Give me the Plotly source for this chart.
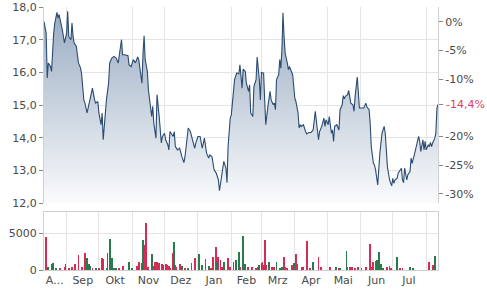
import plotly.graph_objects as go

# ---------------- data ----------------
PRICE_DATES = [
    "2022-08-11", "2022-08-13", "2022-08-14", "2022-08-15", "2022-08-17", "2022-08-18", "2022-08-20",
    "2022-08-21", "2022-08-23", "2022-08-24", "2022-08-25", "2022-08-27", "2022-08-28", "2022-08-30",
    "2022-09-01", "2022-09-02", "2022-09-03", "2022-09-05", "2022-09-06", "2022-09-07", "2022-09-08",
    "2022-09-10", "2022-09-12", "2022-09-14", "2022-09-15", "2022-09-17", "2022-09-18", "2022-09-20",
    "2022-09-22", "2022-09-23", "2022-09-25", "2022-09-27", "2022-09-28", "2022-09-30",
    "2022-10-01", "2022-10-03", "2022-10-04", "2022-10-05", "2022-10-06", "2022-10-08", "2022-10-10",
    "2022-10-11", "2022-10-13", "2022-10-15", "2022-10-17", "2022-10-19", "2022-10-20", "2022-10-22",
    "2022-10-23", "2022-10-25", "2022-10-28", "2022-10-29", "2022-10-31",
    "2022-11-02", "2022-11-04", "2022-11-06", "2022-11-07", "2022-11-09", "2022-11-10", "2022-11-11",
    "2022-11-12", "2022-11-13", "2022-11-15", "2022-11-16", "2022-11-18", "2022-11-19", "2022-11-20",
    "2022-11-21", "2022-11-23", "2022-11-24", "2022-11-26", "2022-11-27", "2022-11-28", "2022-11-29",
    "2022-12-01", "2022-12-02", "2022-12-04", "2022-12-05", "2022-12-06", "2022-12-07", "2022-12-09",
    "2022-12-10", "2022-12-11", "2022-12-13", "2022-12-15", "2022-12-17", "2022-12-19", "2022-12-20",
    "2022-12-22", "2022-12-23", "2022-12-25", "2022-12-27", "2022-12-29", "2022-12-30",
    "2023-01-01", "2023-01-03", "2023-01-05", "2023-01-07", "2023-01-09", "2023-01-11", "2023-01-12",
    "2023-01-14", "2023-01-16", "2023-01-18", "2023-01-20", "2023-01-21", "2023-01-23", "2023-01-25",
    "2023-01-27", "2023-01-28", "2023-01-29", "2023-01-31",
    "2023-02-01", "2023-02-03", "2023-02-04", "2023-02-06", "2023-02-08", "2023-02-09", "2023-02-11",
    "2023-02-12", "2023-02-14", "2023-02-15", "2023-02-17", "2023-02-18", "2023-02-19", "2023-02-21",
    "2023-02-22", "2023-02-24", "2023-02-25", "2023-02-27", "2023-02-28",
    "2023-03-01", "2023-03-03", "2023-03-04", "2023-03-05", "2023-03-07", "2023-03-08", "2023-03-09",
    "2023-03-10", "2023-03-12", "2023-03-13", "2023-03-14", "2023-03-15", "2023-03-17", "2023-03-18",
    "2023-03-19", "2023-03-20", "2023-03-21", "2023-03-22", "2023-03-23", "2023-03-25", "2023-03-26",
    "2023-03-27", "2023-03-28", "2023-03-30", "2023-03-31",
    "2023-04-01", "2023-04-02", "2023-04-04", "2023-04-05", "2023-04-06", "2023-04-07", "2023-04-09",
    "2023-04-11", "2023-04-12", "2023-04-14", "2023-04-16", "2023-04-18", "2023-04-19", "2023-04-20",
    "2023-04-22", "2023-04-23", "2023-04-24", "2023-04-26", "2023-04-28", "2023-04-29", "2023-04-30",
    "2023-05-02", "2023-05-03", "2023-05-05", "2023-05-06", "2023-05-07", "2023-05-08", "2023-05-10",
    "2023-05-12", "2023-05-13", "2023-05-15", "2023-05-16", "2023-05-17", "2023-05-18", "2023-05-20",
    "2023-05-21", "2023-05-23", "2023-05-25", "2023-05-26", "2023-05-27", "2023-05-29", "2023-05-30",
    "2023-05-31",
    "2023-06-02", "2023-06-04", "2023-06-06", "2023-06-07", "2023-06-09", "2023-06-10", "2023-06-11",
    "2023-06-13", "2023-06-14", "2023-06-15", "2023-06-17", "2023-06-18", "2023-06-19", "2023-06-21",
    "2023-06-23", "2023-06-24", "2023-06-25", "2023-06-26", "2023-06-28", "2023-06-30",
    "2023-07-01", "2023-07-02", "2023-07-03", "2023-07-05", "2023-07-06", "2023-07-07", "2023-07-09",
    "2023-07-10", "2023-07-11", "2023-07-12", "2023-07-14", "2023-07-15", "2023-07-17", "2023-07-18",
    "2023-07-19", "2023-07-21", "2023-07-22", "2023-07-24", "2023-07-25", "2023-07-26", "2023-07-27",
    "2023-07-29", "2023-07-30", "2023-07-31",
    "2023-08-01", "2023-08-03", "2023-08-04", "2023-08-05", "2023-08-06", "2023-08-07", "2023-08-09",
    "2023-08-10", "2023-08-11", "2023-08-12",
]
PRICE = [
    17.55, 17.20, 15.83, 16.29, 16.18, 16.03, 17.20,
    17.50, 17.84, 17.66, 17.77, 17.51, 17.31, 16.90,
    17.20, 17.87, 17.10, 17.00, 17.51, 17.10, 16.90,
    16.80, 16.29, 16.13, 15.93, 15.16, 15.06, 14.76,
    15.06, 15.27, 15.52, 15.16, 15.06, 15.11,
    14.76, 14.40, 14.76, 13.94, 14.45, 15.16, 15.67,
    16.29, 16.44, 16.49, 16.44, 16.29, 16.54, 17.00,
    16.54, 16.54, 16.51, 16.23, 16.18,
    16.39, 16.29, 16.47, 16.39, 15.83, 15.67, 16.59,
    17.12, 16.39, 16.03, 15.47, 14.96, 14.65, 14.96,
    14.45, 13.99, 15.32, 14.65, 14.14, 13.84, 14.04,
    14.14, 13.94, 13.79, 13.63, 14.19, 14.14, 14.04,
    14.19, 13.73, 13.63, 13.68, 13.43, 13.24, 13.43,
    13.94, 14.30, 14.19, 13.94, 13.68, 13.84,
    14.04, 14.04, 13.68, 13.99, 13.53, 13.38, 13.48,
    13.43, 13.02, 12.92, 12.71, 12.38, 12.82, 13.28,
    13.07, 12.63, 13.73, 14.60,
    14.70, 15.37, 15.78, 15.98, 15.96, 16.23, 15.52,
    16.10, 16.03, 15.67, 15.42, 15.62, 14.76, 14.65,
    15.57, 15.78, 16.47, 15.78, 15.16,
    16.00, 15.98, 15.16, 14.40, 14.96, 15.27, 15.42,
    15.16, 15.01, 15.06, 14.86, 15.78, 15.93, 16.39,
    16.13, 16.69, 17.82, 17.10, 16.59, 16.29, 16.08,
    16.18, 16.08, 15.93, 15.57,
    15.21, 15.11, 14.76, 14.30, 14.40, 14.35, 14.40,
    14.19, 14.12, 14.16, 14.16, 14.24, 14.65, 14.81,
    14.24, 13.94, 14.19, 14.35, 14.60, 14.35, 14.55,
    14.40, 14.65, 14.14, 14.24, 13.89, 14.35, 14.40,
    14.24, 14.86, 15.01, 15.29, 15.19, 15.27, 15.32,
    15.45, 15.06, 15.01, 14.81, 15.27, 15.86, 15.47,
    14.91,
    14.91, 14.91, 15.06, 14.94, 14.86, 14.45, 13.73,
    13.22, 13.17, 13.02, 12.56, 13.22, 13.53, 14.14,
    14.35, 14.14, 13.63, 13.12, 12.71, 12.53,
    12.76, 12.61, 12.71, 12.76, 12.92, 12.97, 13.07,
    12.71, 12.63, 13.07, 12.71, 12.87, 12.97, 13.38,
    13.22, 13.48, 13.63, 13.94, 14.04, 13.89, 13.58,
    13.94, 13.63, 13.89,
    13.63, 13.79, 13.73, 13.86, 13.73, 13.84, 13.99,
    14.14, 14.91, 15.02,
]

VOL_DATES = [
    "2022-08-13", "2022-08-15", "2022-08-18", "2022-08-19", "2022-08-22", "2022-08-26", "2022-08-30",
    "2022-08-31", "2022-09-03", "2022-09-06", "2022-09-09", "2022-09-12", "2022-09-15", "2022-09-18",
    "2022-09-20", "2022-09-22", "2022-09-23", "2022-09-25", "2022-09-28", "2022-10-01", "2022-10-04",
    "2022-10-05", "2022-10-08", "2022-10-09", "2022-10-11", "2022-10-13", "2022-10-15", "2022-10-17",
    "2022-10-20", "2022-10-23", "2022-10-29", "2022-11-01", "2022-11-05", "2022-11-07", "2022-11-10",
    "2022-11-11", "2022-11-13", "2022-11-14", "2022-11-16", "2022-11-19", "2022-11-21", "2022-11-22",
    "2022-11-24", "2022-11-26", "2022-11-29", "2022-11-30", "2022-12-02", "2022-12-03", "2022-12-05",
    "2022-12-06", "2022-12-09", "2022-12-10", "2022-12-11", "2022-12-12", "2022-12-15", "2022-12-17",
    "2022-12-20", "2022-12-23", "2022-12-26", "2022-12-29", "2023-01-02", "2023-01-05", "2023-01-08",
    "2023-01-11", "2023-01-13", "2023-01-15", "2023-01-18", "2023-01-19", "2023-01-20", "2023-01-22",
    "2023-01-23", "2023-01-25", "2023-01-29", "2023-01-31", "2023-02-03", "2023-02-05", "2023-02-08",
    "2023-02-09", "2023-02-12", "2023-02-14", "2023-02-16", "2023-02-17", "2023-02-20", "2023-02-24",
    "2023-02-26", "2023-02-27", "2023-03-01", "2023-03-02", "2023-03-03", "2023-03-04", "2023-03-05",
    "2023-03-08", "2023-03-11", "2023-03-13", "2023-03-15", "2023-03-18", "2023-03-20", "2023-03-22",
    "2023-03-23", "2023-03-25", "2023-03-29", "2023-03-31", "2023-04-02", "2023-04-03", "2023-04-08",
    "2023-04-09", "2023-04-12", "2023-04-15", "2023-04-18", "2023-04-23", "2023-04-25", "2023-05-04",
    "2023-05-09", "2023-05-12", "2023-05-13", "2023-05-19", "2023-05-20", "2023-05-22", "2023-05-24",
    "2023-05-27", "2023-05-30", "2023-06-02", "2023-06-06", "2023-06-10", "2023-06-12", "2023-06-13",
    "2023-06-15", "2023-06-16", "2023-06-18", "2023-06-20", "2023-06-22", "2023-06-26", "2023-06-28",
    "2023-06-29", "2023-07-05", "2023-07-08", "2023-07-10", "2023-07-17", "2023-07-20", "2023-08-04",
    "2023-08-07", "2023-08-09",
]
VOLUME = [
    4450, 450, 800, 950, 300, 270, 500,
    800, 360, 400, 800, 2070, 500, 2300,
    1600, 800, 600, 300, 250, 300, 1600,
    1500, 250, 2300, 4230, 1600, 300, 300,
    300, 630, 1080, 300, 630, 1080, 950,
    4100, 3400, 6350, 500, 2160, 600, 1170,
    1080, 950, 800, 700, 800, 700, 630,
    300, 2300, 3870, 700, 500, 800, 630,
    300, 300, 950, 1600, 2160, 700, 1530,
    630, 300, 1850, 3200, 1170, 1850, 1400,
    400, 1080, 1600, 400, 1170, 1400, 2500,
    400, 4680, 800, 500, 500, 500, 300,
    500, 700, 950, 1080, 700, 4100, 700,
    1080, 500, 500, 1170, 300, 500, 1850,
    500, 360, 700, 950, 2160, 800, 400,
    500, 3960, 300, 1080, 1850, 400, 500,
    500, 300, 300, 2610, 500, 500, 450,
    300, 450, 300, 500, 3500, 500, 1170,
    1260, 1400, 2430, 800, 300, 450, 540,
    300, 1850, 360, 300, 450, 300, 1080,
    700, 1940,
]
VOL_DIR = [
    "down", "up", "up", "up", "up", "down", "down",
    "up", "down", "down", "down", "down", "down", "down",
    "up", "up", "up", "down", "up", "down", "down",
    "down", "up", "up", "up", "up", "up", "up",
    "down", "down", "up", "up", "down", "down", "up",
    "up", "down", "down", "down", "up", "down", "down",
    "down", "down", "down", "up", "down", "down", "down",
    "down", "down", "up", "down", "down", "down", "up",
    "down", "up", "down", "down", "up", "up", "down",
    "up", "down", "down", "down", "up", "down", "down",
    "down", "up", "down", "down", "up", "up", "up",
    "down", "up", "up", "down", "down", "down", "down",
    "down", "up", "up", "down", "down", "down", "down",
    "up", "down", "down", "up", "up", "up", "down",
    "down", "down", "down", "up", "down", "down", "down",
    "up", "down", "down", "up", "down", "down", "down",
    "up", "down", "up", "up", "down", "down", "down",
    "down", "down", "down", "down", "down", "down", "down",
    "down", "up", "up", "up", "up", "down", "down",
    "down", "up", "down", "down", "up", "up", "down",
    "down", "up",
]

MONTH_TICKS = ["2022-08-21", "2022-09-16", "2022-10-16", "2022-11-16", "2022-12-16", "2023-01-16",
               "2023-02-15", "2023-03-16", "2023-04-16", "2023-05-16", "2023-06-16", "2023-07-16"]
MONTH_LABELS = ["A...", "Sep", "Okt", "Nov", "Dez", "Jan", "Feb", "Mrz", "Apr", "Mai", "Jun", "Jul"]

PRICE_TICKS = [12, 13, 14, 15, 16, 17, 18]
PCT_TICKS = [0, -5, -10, -20, -25, -30]
VOL_TICKS = [0, 5000]

# ---------------- styling ----------------
X_RANGE = ["2022-08-11", "2023-08-12"]
Y_RANGE = [12.0, 18.0]
VOL_RANGE = [0, 7880]
DIR_COLORS = {"down": "#d62b55", "up": "#2a7a4c"}
GRID = "#e4e4e4"
AXLINE = "#d0d0d0"
TXT = "#4a4a4a"
FONT = "DejaVu Sans"

ref = PRICE[0]
last = PRICE[-1]
pct_last = (last / ref - 1) * 100
pct_range = [(Y_RANGE[0] / ref - 1) * 100, (Y_RANGE[1] / ref - 1) * 100]

fig = go.Figure()

fig.add_trace(go.Scatter(
    x=PRICE_DATES, y=PRICE, mode="lines",
    line=dict(color="#2b4b70", width=1.1),
    fill="tozeroy",
    fillgradient=dict(type="vertical", start=Y_RANGE[0], stop=Y_RANGE[1],
                      colorscale=[[0, "#fafbfc"], [1, "#97aac1"]]),
    xaxis="x", yaxis="y", showlegend=False, hoverinfo="skip",
))

for d in ["down", "up"]:
    xs = [t for t, k in zip(VOL_DATES, VOL_DIR) if k == d]
    vs = [v for v, k in zip(VOLUME, VOL_DIR) if k == d]
    fig.add_trace(go.Bar(
        x=xs, y=vs, marker=dict(color=DIR_COLORS[d], line=dict(width=0)),
        width=86400000 * 0.8, xaxis="x2", yaxis="y2", showlegend=False, hoverinfo="skip",
    ))

# invisible trace to activate the right percentage axis
fig.add_trace(go.Scatter(x=[PRICE_DATES[0]], y=[0], mode="markers", marker=dict(opacity=0),
                         xaxis="x", yaxis="y3", showlegend=False, hoverinfo="skip"))

minor = dict(tick0="2022-09-01", dtick="M1", showgrid=True, gridcolor=GRID, gridwidth=1, ticks="")

fig.update_layout(
    width=487, height=301,
    margin=dict(l=44, r=49, t=7, b=31, pad=0, autoexpand=False),
    paper_bgcolor="white", plot_bgcolor="white",
    separators=",.",
    font=dict(family=FONT, size=11, color=TXT),
    bargap=0,
    xaxis=dict(domain=[0, 1], range=X_RANGE, type="date", anchor="y", automargin=False,
               showticklabels=False, showgrid=False, ticks="", minor=minor,
               showline=False, zeroline=False),
    yaxis=dict(domain=[0.254, 1], range=Y_RANGE, tickvals=PRICE_TICKS, tickformat=".1f",
               ticks="outside", ticklen=4, tickcolor="#888", showgrid=True, gridcolor=GRID,
               showline=True, linecolor=AXLINE, zeroline=False, anchor="x", automargin=False),
    yaxis3=dict(overlaying="y", side="right", range=pct_range, anchor="x", automargin=False,
                tickvals=PCT_TICKS + [pct_last],
                ticktext=[f"{v}%" for v in PCT_TICKS] + [""],
                ticks="outside", ticklen=4, tickcolor="#888", showgrid=False,
                showline=True, linecolor=AXLINE, zeroline=False),
    xaxis2=dict(domain=[0, 1], range=X_RANGE, type="date", anchor="y2", automargin=False,
                tickmode="array", tickvals=MONTH_TICKS, ticktext=MONTH_LABELS,
                showgrid=False, ticks="", minor=minor,
                showline=True, mirror=True, linecolor=AXLINE, zeroline=False),
    yaxis2=dict(domain=[0, 0.2217], range=VOL_RANGE, tickvals=VOL_TICKS,
                ticktext=[str(v) for v in VOL_TICKS], automargin=False,
                ticks="outside", ticklen=4, tickcolor="#888", showgrid=True, gridcolor=GRID,
                showline=True, mirror=True, linecolor=AXLINE, zeroline=False, anchor="x2"),
    annotations=[dict(
        xref="paper", x=1, xanchor="left", xshift=6,
        yref="y3", y=pct_last, yanchor="middle",
        text=f"{pct_last:.1f}%".replace(".", ","), showarrow=False,
        font=dict(family=FONT, size=11, color="#e0405a"),
    )],
)

fig.write_html("out.html")
